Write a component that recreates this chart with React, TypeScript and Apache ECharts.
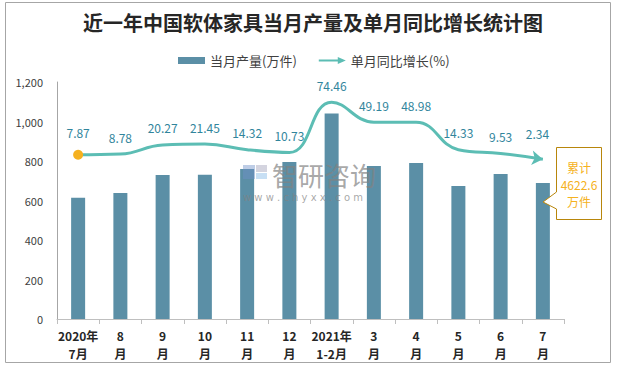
import React, { useEffect, useRef } from "react";
import * as echarts from "echarts";

const categories = ["2020年\n7月", "8\n月", "9\n月", "10\n月", "11\n月", "12\n月", "2021年\n1-2月", "3\n月", "4\n月", "5\n月", "6\n月", "7\n月"];
const production = [614, 638, 729, 730, 759, 795, 1040, 775, 790, 673, 734, 689];
const growth = [7.87, 8.78, 20.27, 21.45, 14.32, 10.73, 74.46, 49.19, 48.98, 14.33, 9.53, 2.34];
const yTicks = [0, 200, 400, 600, 800, 1000, 1200];
const titleText = "近一年中国软体家具当月产量及单月同比增长统计图";
const barName = "当月产量(万件)";
const lineName = "单月同比增长(%)";
const calloutText = "累计\n4622.6\n万件";

const BAR = "#5b8fa6";
const LINE = "#5cbdb4";
const ORANGE = "#f5b120";
const FONT = "'Noto Sans CJK SC', 'Noto Sans', sans-serif";

export default function App() {
  const ref = useRef<HTMLDivElement>(null);
  useEffect(() => {
    if (!ref.current) return;
    const chart = echarts.init(ref.current, null, { renderer: "svg" });
    const lineData = growth.map((v, i) => {
      if (i === 0) {
        return { value: v, symbol: "circle", symbolSize: 10, itemStyle: { color: ORANGE } };
      }
      if (i === growth.length - 1) {
        return { value: v, symbol: "arrow", symbolSize: [11, 11], symbolRotate: -97, itemStyle: { color: LINE } };
      }
      return v;
    });
    const wmStyle = "rgba(130,130,130,0.7)";
    chart.setOption({
      animation: false,
      textStyle: { fontFamily: FONT },
      title: {
        text: titleText,
        left: "center",
        top: 12,
        padding: 0,
        textStyle: { fontSize: 20, fontWeight: "bold", color: "#262626", fontFamily: FONT },
      },
      legend: {
        left: 178,
        top: 54,
        padding: 0,
        itemGap: 22,
        itemWidth: 27,
        itemHeight: 7,
        textStyle: { fontSize: 13, color: "#404040", fontFamily: FONT },
        data: [
          { name: barName, icon: "rect" },
          {
            name: lineName,
            icon: "path://M0,2.4L19,2.4L19,0L27,3.5L19,7L19,4.6L0,4.6Z",
            itemStyle: { color: LINE },
          },
        ],
      },
      grid: { left: 57, right: 62, top: 82, bottom: 48 },
      xAxis: {
        type: "category",
        data: categories,
        axisLine: { lineStyle: { color: "#bfbfbf" } },
        axisTick: { show: true, length: 5, lineStyle: { color: "#bfbfbf" } },
        axisLabel: {
          interval: 0,
          fontSize: 12,
          fontWeight: "bold",
          color: "#262626",
          lineHeight: 18,
          margin: 7,
        },
      },
      yAxis: [
        {
          type: "value",
          min: 0,
          max: 1200,
          interval: 200,
          axisLine: { show: true, lineStyle: { color: "#a6a6a6" } },
          axisTick: { show: false },
          splitLine: { show: false },
          axisLabel: {
            fontSize: 11,
            color: "#404040",
            margin: 14,
            formatter: (v: number) => (yTicks.includes(v) ? v.toLocaleString("en-US") : ""),
          },
        },
        {
          type: "value",
          min: -200,
          max: 100,
          show: false,
          splitLine: { show: false },
        },
      ],
      series: [
        {
          name: barName,
          type: "bar",
          data: production,
          barWidth: 14,
          itemStyle: { color: BAR },
        },
        {
          name: lineName,
          type: "line",
          yAxisIndex: 1,
          data: lineData,
          smooth: 0.45,
          symbol: "circle",
          symbolSize: 0,
          showSymbol: true,
          itemStyle: { color: LINE },
          lineStyle: { color: LINE, width: 3 },
          label: {
            show: true,
            position: "top",
            distance: 11,
            fontSize: 12,
            color: "#31859c",
            fontFamily: FONT,
          },
          z: 5,
        },
      ],
      graphic: [
        {
          type: "rect",
          shape: { x: 5.5, y: 2.5, width: 605, height: 360 },
          style: { fill: "none", stroke: "#a6a6a6", lineWidth: 1 },
          silent: true,
          z: -1,
        },
        // watermark
        {
          type: "rect",
          silent: true,
          z: 10,
          shape: { x: 243, y: 165, width: 12, height: 14 },
          style: { fill: "rgba(110,145,200,0.45)" },
        },
        {
          type: "rect",
          silent: true,
          z: 10,
          shape: { x: 256, y: 165, width: 11, height: 7 },
          style: { fill: "rgba(160,160,185,0.45)" },
        },
        {
          type: "rect",
          silent: true,
          z: 10,
          shape: { x: 256, y: 173, width: 11, height: 6 },
          style: { fill: "rgba(130,185,230,0.45)" },
        },
        {
          type: "text",
          silent: true,
          z: 10,
          x: 272,
          y: 174,
          style: {
            text: "智研咨询",
            font: "26px 'Noto Sans CJK SC'",
            fill: wmStyle,
            verticalAlign: "middle",
            align: "left",
          },
        },
        {
          type: "text",
          silent: true,
          z: 10,
          x: 243,
          y: 197,
          style: {
            text: "w w w . c h y x x . c o m",
            font: "10px 'DejaVu Sans'",
            fill: wmStyle,
            verticalAlign: "middle",
            align: "left",
          },
        },
        // callout
        {
          type: "polygon",
          shape: {
            points: [
              [556.5, 147.5],
              [601.5, 147.5],
              [601.5, 219.5],
              [556.5, 219.5],
              [556.5, 209],
              [543, 202],
              [556.5, 192],
            ],
          },
          style: { fill: "#ffffff", stroke: "#b8860b", lineWidth: 1 },
          z: 20,
        },
        {
          type: "text",
          x: 579,
          y: 184,
          z: 21,
          style: {
            text: calloutText,
            font: "12px 'Noto Sans CJK SC'",
            fill: ORANGE,
            align: "center",
            verticalAlign: "middle",
            lineHeight: 17,
          },
        },
      ],
    });
    return () => chart.dispose();
  }, []);
  return <div ref={ref} style={{ position: "fixed", left: 0, top: 0, width: 626, height: 367, background: "#fff" }} />;
}
